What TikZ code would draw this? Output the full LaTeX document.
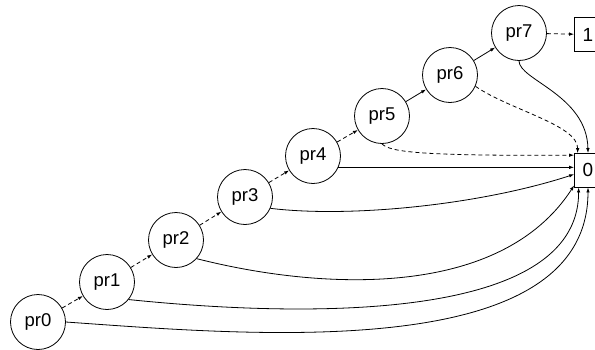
\documentclass[tikz,border=0pt]{standalone}
\usepackage{fontspec}
\setmainfont{Liberation Sans}
\usetikzlibrary{arrows.meta,calc}
\begin{document}
\begin{tikzpicture}[x=1pt,y=-1pt,
  state/.style={circle,draw,line width=0.8pt,minimum size=55pt,inner sep=0pt,
                font=\fontsize{18.5}{20}\selectfont},
  term/.style={rectangle,draw,line width=0.8pt,minimum width=27pt,minimum height=33.5pt,
               inner sep=0pt,font=\fontsize{19}{20}\selectfont},
  link/.style={line width=0.8pt,-{Latex[length=5pt,width=3.5pt]}},
  dlink/.style={link,dash pattern=on 4pt off 3pt}]
\useasboundingbox (0,0) rectangle (595,349);
\clip (0,0) rectangle (595,349);

% decision nodes
\node[state] (pr0) at (38,322) {pr0};
\node[state] (pr1) at (107,282) {pr1};
\node[state] (pr2) at (176,240) {pr2};
\node[state] (pr3) at (245,197) {pr3};
\node[state] (pr4) at (313,156) {pr4};
\node[state] (pr5) at (382,116) {pr5};
\node[state] (pr6) at (450,75) {pr6};
\node[state] (pr7) at (519,33) {pr7};

% terminal nodes
\node[term] (t1) at (588,34.5) {1};
\node[term] (t0) at (588,170.3) {0};

% chain of successors
\draw[dlink] (pr0) -- (pr1);
\draw[dlink] (pr1) -- (pr2);
\draw[dlink] (pr2) -- (pr3);
\draw[dlink] (pr3) -- (pr4);
\draw[dlink] (pr4) -- (pr5);
\draw[link]  (pr5) -- (pr6);
\draw[link]  (pr6) -- (pr7);
\draw[dlink] (pr7) -- (t1);

% edges into the 0 terminal
\draw[dlink] (pr6.-24) .. controls (510,110) and (578,125) .. ($(t0.north west)+(3.5,0)$);
\draw[link]  (pr7.south) .. controls (519,80) and (587,95) .. (t0.north);
\draw[dlink] (pr5.south) .. controls (390,152) and (420,156) .. ($(t0.north west)+(0,2)$);
\draw[link]  (pr4.-24) -- (pr4.-24 -| t0.west);
\draw[link]  (pr3.-24) .. controls (350,218) and (480,205) .. ($(t0.west)+(0,4)$);
\draw[link]  (pr2.-42) .. controls (320,290) and (500,300) .. ($(t0.south west)+(0,-2)$);
\draw[link]  (pr1.-39) .. controls (250,312) and (579,335) .. ($(t0.south west)+(4.5,0)$);
\draw[link]  (pr0.east) .. controls (250,335) and (588,365) .. (t0.south);
\end{tikzpicture}
\end{document}
